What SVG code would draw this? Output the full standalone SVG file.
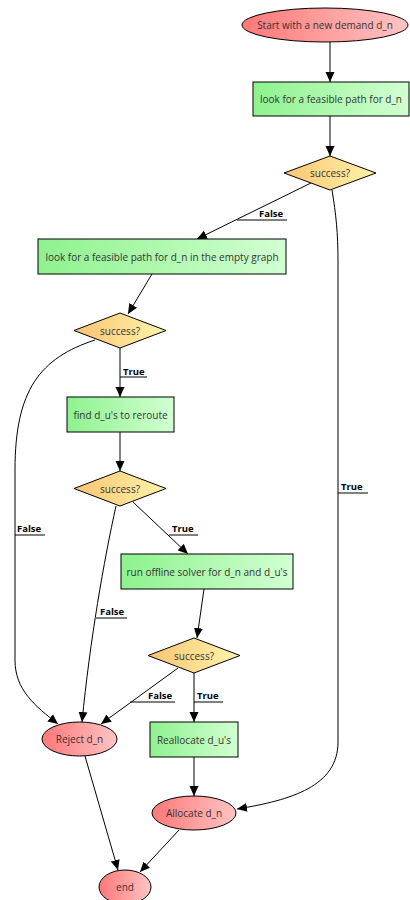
<svg xmlns="http://www.w3.org/2000/svg" width="410" height="900" viewBox="0 0 410 900">
  <defs>
    <linearGradient id="gGreen" x1="0" y1="0" x2="1" y2="0">
      <stop offset="0" stop-color="#8ef28e"/>
      <stop offset="1" stop-color="#d2ffd2"/>
    </linearGradient>
    <linearGradient id="gRed" x1="0" y1="0" x2="1" y2="0">
      <stop offset="0" stop-color="#ff7878"/>
      <stop offset="1" stop-color="#ffc4c4"/>
    </linearGradient>
    <linearGradient id="gYellow" x1="0" y1="0" x2="1" y2="0">
      <stop offset="0" stop-color="#fbc472"/>
      <stop offset="1" stop-color="#fff4aa"/>
    </linearGradient>
    <marker id="arrow" viewBox="0 0 10 10" refX="10" refY="5" markerWidth="10" markerHeight="10" markerUnits="userSpaceOnUse" orient="auto">
      <path d="M0,0.5 L10,5 L0,9.5 z" fill="#000"/>
    </marker>
  </defs>
  <style>
    .box { fill: url(#gGreen); stroke: #000; stroke-width: 1; }
    .term { fill: url(#gRed); stroke: #000; stroke-width: 1; }
    .dec { fill: url(#gYellow); stroke: #000; stroke-width: 1; }
    .txt { font-family: "Open Sans", "Noto Sans", sans-serif; font-size: 10px; fill: #333; text-anchor: middle; dominant-baseline: central; }
    .edge { fill: none; stroke: #000; stroke-width: 1; marker-end: url(#arrow); }
    .lbl { font-family: "Open Sans", "Noto Sans", sans-serif; font-size: 9.5px; font-weight: bold; fill: #000; }
    .ul { stroke: #000; stroke-width: 1; fill: none; }
  </style>

  <!-- connectors -->
  <g id="connectors">
    <path class="edge" d="M330,42 L330,82"/>
    <path class="edge" d="M330,116 L330,156"/>
    <path class="edge" d="M311,183 L197,239"/>
    <path class="edge" d="M152,274 L128,314"/>
    <path class="edge" d="M120,348 L120,397"/>
    <path class="edge" d="M120,432 L120,471"/>
    <path class="edge" d="M133,502 L188,554"/>
    <path class="edge" d="M204,589 L197,638"/>
    <path class="edge" d="M194,673 L194,722"/>
    <path class="edge" d="M178,668 L101,724"/>
    <path class="edge" d="M194,757 L194,796"/>
    <path class="edge" d="M95,340 C40,358 15,390 15,470 L15,660 C15,690 35,706 58,724"/>
    <path class="edge" d="M116,506 C104,560 90,640 82,722"/>
    <path class="edge" d="M332,190 C336,215 338,232 338,262 L338,742 C338,786 292,800 237,809"/>
    <path class="edge" d="M85,756 L118,870"/>
    <path class="edge" d="M179,830 L140,872"/>

    <!-- edge labels -->
    <text class="lbl" x="259" y="217">False</text>
    <path class="ul" d="M237,220 L287,220"/>
    <text class="lbl" x="123" y="375">True</text>
    <path class="ul" d="M120,377 L147,377"/>
    <text class="lbl" x="17" y="532">False</text>
    <path class="ul" d="M15,535 L45,535"/>
    <text class="lbl" x="172" y="532">True</text>
    <path class="ul" d="M169,535 L198,535"/>
    <text class="lbl" x="100" y="615">False</text>
    <path class="ul" d="M96,618 L127,618"/>
    <text class="lbl" x="148" y="699">False</text>
    <path class="ul" d="M130,702 L175,702"/>
    <text class="lbl" x="197" y="699">True</text>
    <path class="ul" d="M194,702 L223,702"/>
    <text class="lbl" x="341" y="490">True</text>
    <path class="ul" d="M338,493 L368,493"/>
  </g>

  <!-- nodes -->
  <g id="start">
    <ellipse class="term" cx="325" cy="25" rx="83" ry="17"/>
    <text class="txt" x="325" y="25">Start with a new demand d_n</text>
  </g>
  <g id="look1">
    <rect class="box" x="253" y="82" width="156" height="34"/>
    <text class="txt" x="331" y="99">look for a feasible path for d_n</text>
  </g>
  <g id="success1">
    <polygon class="dec" points="330,156 376,173 330,190 284,173"/>
    <text class="txt" x="330" y="173">success?</text>
  </g>
  <g id="look2">
    <rect class="box" x="38" y="239" width="248" height="35"/>
    <text class="txt" x="162" y="256.5">look for a feasible path for d_n in the empty graph</text>
  </g>
  <g id="success2">
    <polygon class="dec" points="120,313 166,330.5 120,348 74,330.5"/>
    <text class="txt" x="120" y="330.5">success?</text>
  </g>
  <g id="find">
    <rect class="box" x="67" y="397" width="107" height="35"/>
    <text class="txt" x="120.5" y="414.5">find d_u's to reroute</text>
  </g>
  <g id="success3">
    <polygon class="dec" points="120,471 166,488.5 120,506 74,488.5"/>
    <text class="txt" x="120" y="488.5">success?</text>
  </g>
  <g id="solver">
    <rect class="box" x="121" y="554" width="172" height="35"/>
    <text class="txt" x="207" y="571.5">run offline solver for d_n and d_u's</text>
  </g>
  <g id="success4">
    <polygon class="dec" points="194,638 240,655.5 194,673 148,655.5"/>
    <text class="txt" x="194" y="655.5">success?</text>
  </g>
  <g id="reject">
    <ellipse class="term" cx="79.5" cy="739" rx="37.5" ry="17"/>
    <text class="txt" x="79.5" y="739">Reject d_n</text>
  </g>
  <g id="reallocate">
    <rect class="box" x="150" y="722" width="88" height="35"/>
    <text class="txt" x="194" y="739.5">Reallocate d_u's</text>
  </g>
  <g id="allocate">
    <ellipse class="term" cx="194" cy="813" rx="42" ry="17"/>
    <text class="txt" x="194" y="813">Allocate d_n</text>
  </g>
  <g id="end">
    <ellipse class="term" cx="125" cy="887" rx="26" ry="17"/>
    <text class="txt" x="125" y="887">end</text>
  </g>
</svg>
